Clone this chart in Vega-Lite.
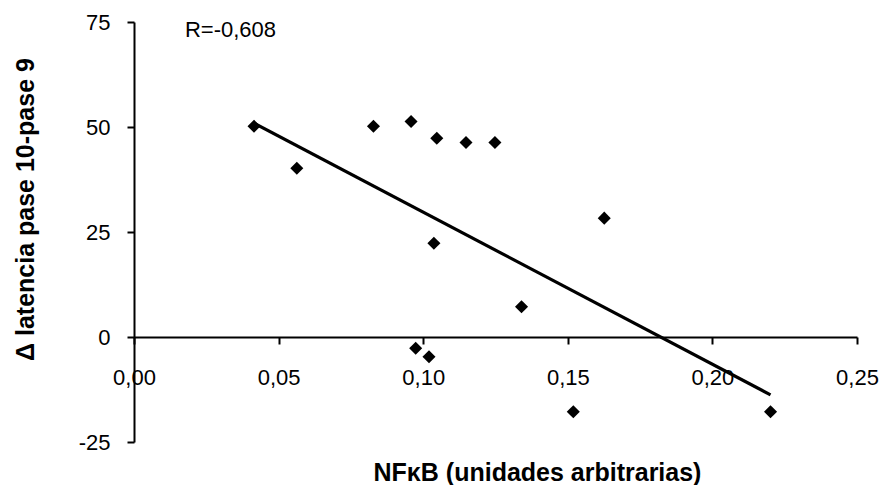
{
  "$schema": "https://vega.github.io/schema/vega-lite/v6.json",
  "width": 723,
  "height": 420,
  "autosize": "none",
  "padding": {"left": 134, "top": 22, "right": 28, "bottom": 43},
  "background": "white",
  "config": {
    "view": {"stroke": null},
    "font": "Liberation Sans",
    "axis": {
      "grid": false,
      "domainColor": "black",
      "domainWidth": 2,
      "tickColor": "black",
      "tickWidth": 2,
      "tickSize": 7,
      "labelFont": "Liberation Sans",
      "labelFontSize": 22,
      "labelColor": "black",
      "titleFont": "Liberation Sans",
      "titleColor": "black"
    }
  },
  "title": {
    "text": "NFκB (unidades arbitrarias)",
    "orient": "bottom",
    "frame": "group",
    "anchor": "middle",
    "font": "Liberation Sans",
    "fontSize": 25,
    "fontWeight": "bold",
    "color": "black",
    "baseline": "alphabetic",
    "offset": 28,
    "dx": 42
  },
  "layer": [
    {
      "data": {
        "values": [
          {"nfkb": 0.0415, "lat": 50.2},
          {"nfkb": 0.0563, "lat": 40.2},
          {"nfkb": 0.0828, "lat": 50.2},
          {"nfkb": 0.0958, "lat": 51.3},
          {"nfkb": 0.1047, "lat": 47.3},
          {"nfkb": 0.1148, "lat": 46.3},
          {"nfkb": 0.1248, "lat": 46.3},
          {"nfkb": 0.1037, "lat": 22.3},
          {"nfkb": 0.134, "lat": 7.2},
          {"nfkb": 0.1626, "lat": 28.3},
          {"nfkb": 0.0974, "lat": -2.7},
          {"nfkb": 0.102, "lat": -4.7},
          {"nfkb": 0.1519, "lat": -17.8},
          {"nfkb": 0.2201, "lat": -17.8}
        ],
        "name": "pts"
      },
      "layer": [
        {
          "mark": {"type": "point", "shape": "diamond", "filled": true, "color": "black", "size": 170, "opacity": 1},
          "encoding": {
            "x": {
              "field": "nfkb",
              "type": "quantitative",
              "scale": {"domain": [0, 0.25], "nice": false, "zero": false},
              "axis": {
                "title": null,
                "values": [0, 0.05, 0.1, 0.15, 0.2, 0.25],
                "labelExpr": "replace(format(datum.value, '.2f'), '.', ',')",
                "offset": {"expr": "scale('y', 0) - height"},
                "labelBaseline": "alphabetic",
                "labelPadding": 40,
                "labelFlush": false,
                "labelOverlap": false
              }
            },
            "y": {
              "field": "lat",
              "type": "quantitative",
              "scale": {"domain": [-25, 75], "nice": false, "zero": false},
              "axis": {
                "title": "Δ latencia pase 10-pase 9",
                "titleFontSize": 25,
                "titleFontWeight": "bold",
                "titleAngle": -90,
                "titleAlign": "center",
                "titleBaseline": "alphabetic",
                "titleX": -101,
                "titleY": 187,
                "values": [-25, 0, 25, 50, 75],
                "labelExpr": "'' + datum.value",
                "labelPadding": 17
              }
            }
          }
        },
        {
          "transform": [{"regression": "lat", "on": "nfkb"}],
          "mark": {"type": "line", "color": "black", "strokeWidth": 3.2},
          "encoding": {
            "x": {"field": "nfkb", "type": "quantitative"},
            "y": {"field": "lat", "type": "quantitative"}
          }
        }
      ]
    },
    {
      "data": {"values": [{"label": "R=-0,608"}]},
      "mark": {"type": "text", "align": "left", "baseline": "alphabetic", "fontSize": 22, "font": "Liberation Sans", "color": "black"},
      "encoding": {
        "text": {"field": "label", "type": "nominal"},
        "x": {"datum": 0.0176},
        "y": {"datum": 71.4}
      }
    }
  ]
}
